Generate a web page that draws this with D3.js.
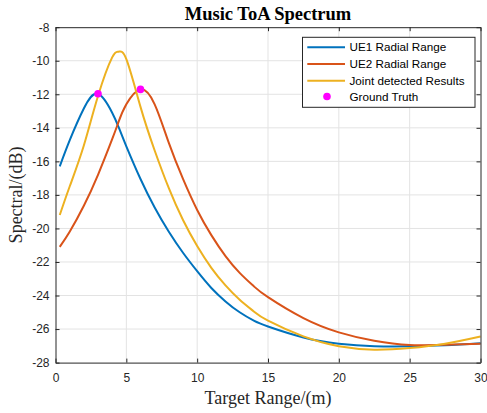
<!DOCTYPE html>
<meta charset="utf-8">
<style>
body { margin: 0; background: #fff; }
svg { display: block; }
.tick text { font: 12px "Liberation Sans", Arial, sans-serif; fill: #262626; }
.grid line { stroke: #e3e3e3; stroke-width: 1; }
.legend text { font: 11.7px "Liberation Sans", Arial, sans-serif; fill: #000; }
</style>
<body>
<svg width="487" height="413"></svg>
<script src="https://cdn.jsdelivr.net/npm/d3@7/dist/d3.min.js"></script>
<script>

// range samples (m)
var ranges = [0.3, 1, 2, 3, 4, 4.45, 5, 6, 7, 8, 9, 10, 11, 12, 13, 14, 15, 17.5, 20, 22.5, 25, 27.5, 30];
// spectra (dB)
var ue1 = [-16.3, -14.75, -12.85, -11.97, -13.1, -13.95, -15.1, -17.05, -18.75, -20.2, -21.45, -22.55, -23.55, -24.35, -25.0, -25.5, -25.85, -26.5, -26.87, -27.02, -27.03, -26.97, -26.85];
var ue2 = [-21.1, -20.2, -18.65, -16.8, -14.68, -13.65, -12.6, -11.71, -12.6, -14.9, -17.05, -18.9, -20.4, -21.65, -22.65, -23.45, -24.1, -25.35, -26.2, -26.7, -26.95, -26.93, -26.87];
var joint = [-19.2, -17.5, -15.05, -12.1, -9.8, -9.46, -9.9, -12.75, -15.35, -17.6, -19.5, -21.05, -22.35, -23.4, -24.25, -24.95, -25.5, -26.44, -27.03, -27.23, -27.13, -26.87, -26.44];
var truthX = [3, 6];
var truthY = [-11.97, -11.71];

var seriesNames = ["UE1 Radial Range", "UE2 Radial Range", "Joint detected Results", "Ground Truth"];
var colors = ["#0072BD", "#D95319", "#EDB120", "#FF00FF"];
var xTicks = [0, 5, 10, 15, 20, 25, 30];
var yTicks = [-28, -26, -24, -22, -20, -18, -16, -14, -12, -10, -8];

var svg = d3.select("svg");
var plotL = 55.5, plotR = 480.5, plotT = 27.2, plotB = 362.6;

var x = d3.scaleLinear().domain([0, 30]).range([plotL, plotR]);
var y = d3.scaleLinear().domain([-28, -8]).range([plotB, plotT]);

// grid
var grid = svg.append("g").attr("class", "grid");
grid.selectAll(".gx").data(xTicks.slice(1, -1)).enter().append("line")
    .attr("x1", d => x(d)).attr("x2", d => x(d))
    .attr("y1", plotT).attr("y2", plotB);
grid.selectAll(".gy").data(yTicks.slice(1, -1)).enter().append("line")
    .attr("y1", d => y(d)).attr("y2", d => y(d))
    .attr("x1", plotL).attr("x2", plotR);

// curves
var line = d3.line()
    .x(d => x(d[0]))
    .y(d => y(d[1]))
    .curve(d3.curveNatural);

[ue1, ue2, joint].forEach(function(vals, i) {
  svg.append("path")
      .datum(ranges.map((r, j) => [r, vals[j]]))
      .attr("fill", "none")
      .attr("stroke", colors[i])
      .attr("stroke-width", 2)
      .attr("d", line);
});

svg.append("g").selectAll("circle")
  .data(truthX.map((t, i) => [t, truthY[i]]))
  .enter().append("circle")
    .attr("cx", d => x(d[0]))
    .attr("cy", d => y(d[1]))
    .attr("r", 3.8)
    .attr("fill", colors[3]);

// axes, MATLAB style box with inward ticks
var axColor = "#262626";
var xAxis = svg.append("g").attr("transform", `translate(0,${plotB})`)
    .call(d3.axisBottom(x).tickValues(xTicks).tickSizeInner(-4).tickSizeOuter(0).tickPadding(11));
var xTop = svg.append("g").attr("transform", `translate(0,${plotT})`)
    .call(d3.axisTop(x).tickValues(xTicks).tickSizeInner(-4).tickSizeOuter(0).tickFormat(""));
var yAxis = svg.append("g").attr("transform", `translate(${plotL},0)`)
    .call(d3.axisLeft(y).tickValues(yTicks).tickSizeInner(-4).tickSizeOuter(0).tickPadding(6));
var yRight = svg.append("g").attr("transform", `translate(${plotR},0)`)
    .call(d3.axisRight(y).tickValues(yTicks).tickSizeInner(-4).tickSizeOuter(0).tickFormat(""));
[xAxis, xTop, yAxis, yRight].forEach(function(g) {
  g.select(".domain").attr("stroke", axColor).attr("stroke-width", 1);
  g.selectAll(".tick line").attr("stroke", axColor);
});
yAxis.selectAll(".tick text").text(d => d < 0 ? "-" + Math.abs(d) : d);

// titles
svg.append("text")
    .attr("x", (plotL + plotR) / 2).attr("y", 19.5)
    .attr("text-anchor", "middle")
    .style("font", "bold 18.5px 'Liberation Serif', 'Times New Roman', serif")
    .text("Music ToA Spectrum");
svg.append("text")
    .attr("x", (plotL + plotR) / 2).attr("y", 404)
    .attr("text-anchor", "middle")
    .style("font", "18px 'Liberation Serif', 'Times New Roman', serif")
    .attr("fill", "#262626")
    .text("Target Range/(m)");
svg.append("text")
    .attr("transform", `translate(22,${(plotT + plotB) / 2}) rotate(-90)`)
    .attr("text-anchor", "middle")
    .style("font", "18px 'Liberation Serif', 'Times New Roman', serif")
    .attr("fill", "#262626")
    .text("Spectral/(dB)");

// legend
var lg = svg.append("g").attr("class", "legend");
lg.append("rect")
    .attr("x", 302.5).attr("y", 37.3).attr("width", 172.5).attr("height", 70)
    .attr("fill", "#fff").attr("stroke", axColor).attr("stroke-width", 1);
var rowY = [47.3, 64, 80.7, 96.5];
seriesNames.forEach(function(name, i) {
  if (i < 3) {
    lg.append("line")
        .attr("x1", 307.3).attr("x2", 345)
        .attr("y1", rowY[i]).attr("y2", rowY[i])
        .attr("stroke", colors[i]).attr("stroke-width", 2);
  } else {
    lg.append("circle").attr("cx", 327).attr("cy", rowY[i]).attr("r", 3.8).attr("fill", colors[i]);
  }
  lg.append("text").attr("x", 349.5).attr("y", rowY[i]).attr("dy", "0.35em").text(name);
});

</script>
</body>
